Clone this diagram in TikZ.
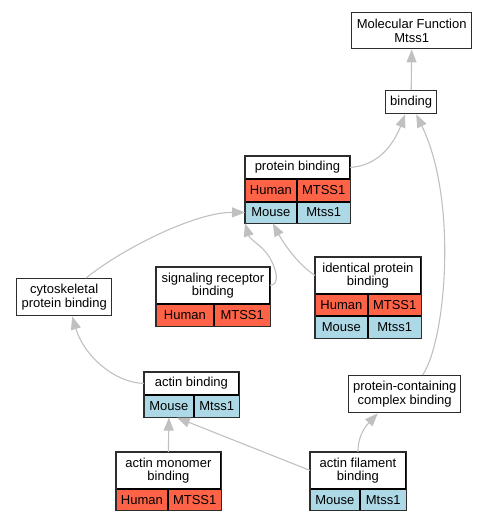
\documentclass[tikz,border=0pt]{standalone}
\usepackage{fontspec}
\setmainfont{Liberation Sans}
\usepackage{tikz}
\usetikzlibrary{arrows.meta, positioning, calc}
\definecolor{myred}{RGB}{255,99,71}
\definecolor{myblue}{RGB}{173,216,230}
\definecolor{mygray}{RGB}{192,192,192}
\definecolor{mydark}{RGB}{45,45,45}
\newcommand{\termfont}{\fontsize{13}{13.5}\selectfont}
\tikzset{
  term/.style={rectangle, draw=mydark, fill=white, line width=1.4pt,
    align=center, inner sep=0pt, anchor=north west, font=\termfont},
  cell/.style={rectangle, draw=black, fill=white, line width=0.8pt,
    align=center, inner sep=0pt, anchor=north west, font=\termfont},
  human/.style={cell, fill=myred},
  mouse/.style={cell, fill=myblue},
  outline/.style={draw=mydark, line width=1.4pt},
  arrow/.style={-{Triangle[length=13pt, width=10pt]}, color=mygray, line width=1.1pt}
}

\begin{document}
\begin{tikzpicture}[x=1pt, y=-1pt]
  \useasboundingbox (0,0) rectangle (487,520);

  \node [term, minimum width=120pt, minimum height=36pt] (mf) at (351,12) {Molecular Function\\Mtss1};
  \node [term, minimum width=51pt, minimum height=23pt] (bind) at (385,90) {binding};
  \node [term, minimum width=95pt, minimum height=37pt] (cyto) at (16,278) {cytoskeletal\\protein binding};
  \node [term, minimum width=112pt, minimum height=37pt] (pcc) at (348,375) {protein-containing\\complex binding};

  \node [cell, minimum width=104pt, minimum height=22pt] (pb) at (245,156) {protein binding};
  \node [human, minimum width=51pt, minimum height=22pt] (pbhu1) at (pb.south west) {Human};
  \node [human, minimum width=53pt, minimum height=22pt] (pbhu2) at (pbhu1.north east) {MTSS1};
  \node [mouse, minimum width=51pt, minimum height=21pt] (pbmo1) at (pbhu1.south west) {Mouse};
  \node [mouse, minimum width=53pt, minimum height=21pt] (pbmo2) at (pbmo1.north east) {Mtss1};
  \draw [outline] (pb.north west) rectangle (pbmo2.south east);

  \node [cell, minimum width=113pt, minimum height=36pt] (sig) at (156,267) {signaling receptor\\binding};
  \node [human, minimum width=57pt, minimum height=22pt] (sighu1) at (sig.south west) {Human};
  \node [human, minimum width=56pt, minimum height=22pt] (sighu2) at (sighu1.north east) {MTSS1};
  \draw [outline] (sig.north west) rectangle (sighu2.south east);

  \node [cell, minimum width=105pt, minimum height=36pt] (ide) at (315,257) {identical protein\\binding};
  \node [human, minimum width=52pt, minimum height=21.5pt] (idehu1) at (ide.south west) {Human};
  \node [human, minimum width=53pt, minimum height=21.5pt] (idehu2) at (idehu1.north east) {MTSS1};
  \node [mouse, minimum width=52pt, minimum height=21.5pt] (idemo1) at (idehu1.south west) {Mouse};
  \node [mouse, minimum width=53pt, minimum height=21.5pt] (idemo2) at (idemo1.north east) {Mtss1};
  \draw [outline] (ide.north west) rectangle (idemo2.south east);

  \node [cell, minimum width=94pt, minimum height=22pt] (ab) at (144,372) {actin binding};
  \node [mouse, minimum width=49pt, minimum height=22pt] (abmo1) at (ab.south west) {Mouse};
  \node [mouse, minimum width=45pt, minimum height=22pt] (abmo2) at (abmo1.north east) {Mtss1};
  \draw [outline] (ab.north west) rectangle (abmo2.south east);

  \node [cell, minimum width=104pt, minimum height=36pt] (mon) at (116,452) {actin monomer\\binding};
  \node [human, minimum width=51pt, minimum height=21pt] (monhu1) at (mon.south west) {Human};
  \node [human, minimum width=53pt, minimum height=21pt] (monhu2) at (monhu1.north east) {MTSS1};
  \draw [outline] (mon.north west) rectangle (monhu2.south east);

  \node [cell, minimum width=95pt, minimum height=36pt] (fil) at (310,452) {actin filament\\binding};
  \node [mouse, minimum width=49pt, minimum height=21pt] (filmo1) at (fil.south west) {Mouse};
  \node [mouse, minimum width=46pt, minimum height=21pt] (filmo2) at (filmo1.north east) {Mtss1};
  \draw [outline] (fil.north west) rectangle (filmo2.south east);

  \draw [arrow] (bind.north) -- (mf.south);
  \draw [arrow] (pb.east) .. controls (382,166) and (396,138) .. ([xshift=-6pt]bind.south);
  \draw [arrow] ([xshift=18pt]pcc.north) .. controls (446,340) and (458,200) .. ([xshift=5pt]bind.south);
  \draw [arrow] ([xshift=22pt]cyto.north) .. controls (120,250) and (195,212) .. (pbmo1.west);
  \draw [arrow] (sig.east) .. controls (280,285) and (277,271) .. (270,258)
    .. controls (262,245) and (250,240) .. (pbmo1.south west);
  \draw [arrow] (ide.west) .. controls (300,266) and (285,246) .. ([xshift=2pt]pbmo1.south);
  \draw [arrow] (ab.west) .. controls (115,383) and (84,356) .. ([xshift=8pt]cyto.south);
  \draw [arrow] (mon.north) -- (abmo1.south);
  \draw [arrow] (fil.west) -- ([xshift=8pt]abmo1.south);
  \draw [arrow] (fil.north) .. controls (358,440) and (362,430) .. ([xshift=-27pt]pcc.south);
\end{tikzpicture}
\end{document}
